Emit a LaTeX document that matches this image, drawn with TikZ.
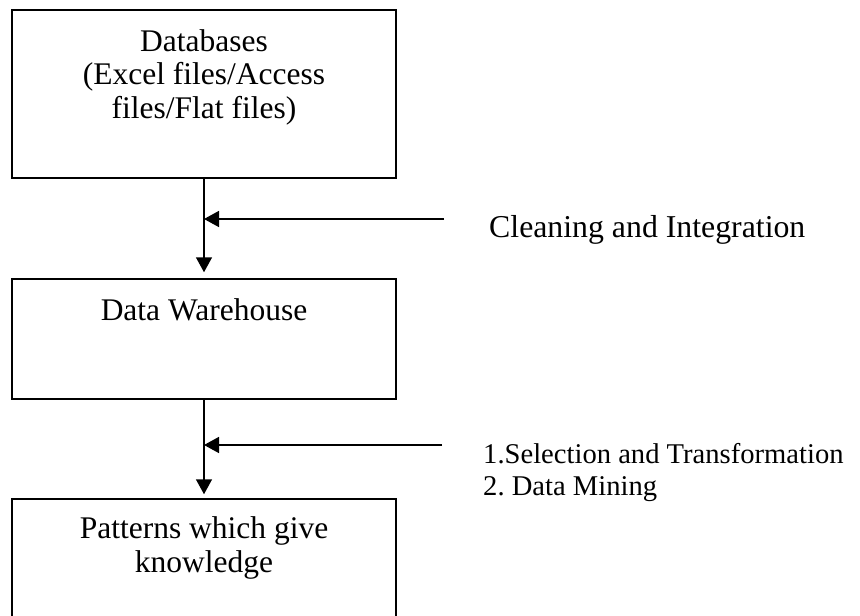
\documentclass[tikz,border=0pt]{standalone}
\usepackage{fontspec}
\setmainfont{Liberation Serif}
\usetikzlibrary{arrows.meta}
\begin{document}
\begin{tikzpicture}[x=1pt,y=-1pt,
  stagebox/.style={draw,line width=1.5pt,rectangle,minimum width=384pt,inner sep=0pt},
  boxtext/.style={anchor=base,align=center,font=\fontsize{31.5}{33.3}\selectfont,inner sep=0pt},
  sidetext/.style={anchor=base west,align=left,inner sep=0pt},
  flow/.style={line width=1.5pt,-{Triangle[length=15pt,width=16pt]}}]
\clip (0,0) rectangle (860,616);

% the three stages
\node[stagebox,minimum height=168pt] (db) at (204,94) {};
\node[stagebox,minimum height=120pt] (dw) at (204,339) {};
\node[stagebox,minimum height=130pt] (pk) at (204,564) {};

% multi-line texts are placed by the baseline of their last line
\node[boxtext] (dbt) at (204,118) {Databases\\(Excel files/Access\\files/Flat files)};
\node[boxtext] (dwt) at (204,320) {Data Warehouse};
\node[boxtext] (pkt) at (204,572) {Patterns which give\\knowledge};

% processes feeding each step
\node[sidetext,font=\fontsize{31.8}{33}\selectfont] (ci) at (489,237) {Cleaning and Integration};
\node[sidetext,font=\fontsize{28.6}{32}\selectfont] (st) at (483,495) {1.Selection and Transformation\\2.\ Data Mining};

\coordinate (j1) at (204,219);
\coordinate (j2) at (204,445);
\coordinate (s1) at (444,219);
\coordinate (s2) at (442,445);

\draw[flow,shorten >=6pt] (db.south) -- (dw.north);
\draw[flow,shorten >=4pt] (dw.south) -- (pk.north);
\draw[flow] (s1) -- (j1);
\draw[flow] (s2) -- (j2);
\end{tikzpicture}
\end{document}
